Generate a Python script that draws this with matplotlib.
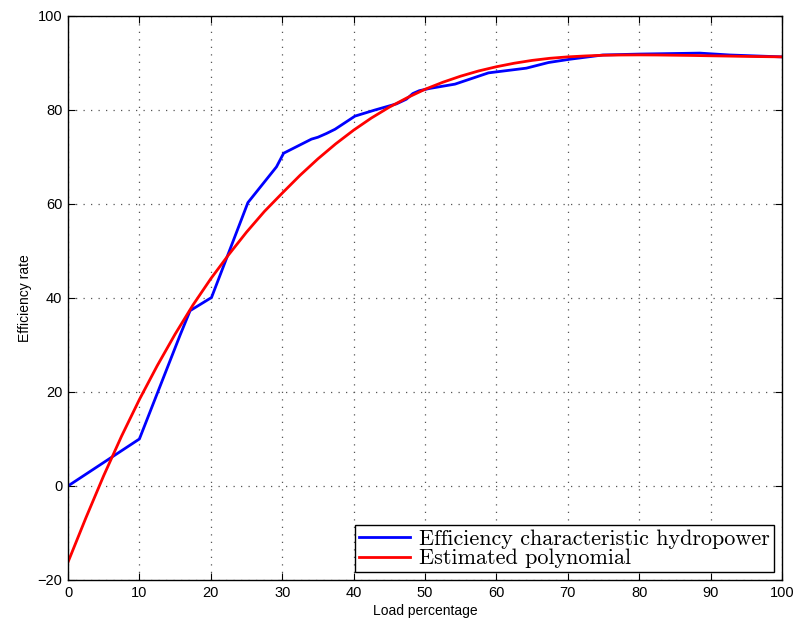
import matplotlib
matplotlib.use("Agg")
import matplotlib.pyplot as plt

# Blue: measured efficiency characteristic
load_meas = [0, 10, 15.7, 17.1, 20.1, 25.2, 29.2, 30.2, 34.1, 35.0, 36.2, 37.4, 40.2,
             43.0, 46.0, 47.4, 48.3, 49.2, 50.7, 54.2, 58.9, 64.2, 67.3, 70.3, 74.9,
             80.1, 88.5, 92.7, 100]
eff_meas = [0, 10, 32.1, 37.3, 40.1, 60.3, 67.9, 70.8, 73.8, 74.2, 75.0, 75.9, 78.7,
            80.0, 81.3, 82.3, 83.5, 84.1, 84.6, 85.5, 87.9, 88.9, 90.1, 90.8, 91.7,
            91.9, 92.1, 91.7, 91.3]

# Red: estimated polynomial, values read at 2.5 % steps
load_poly = [0, 2.5, 5, 7.5, 10, 12.5, 15, 17.5, 20, 22.5, 25, 27.5, 30, 32.5, 35, 37.5,
             40, 42.5, 45, 47.5, 50, 52.5, 55, 57.5, 60, 62.5, 65, 67.5, 70, 72.5, 75,
             77.5, 80, 82.5, 85, 87.5, 90, 92.5, 95, 97.5, 100]
eff_poly = [-16.2, -6.8, 2.2, 10.6, 18.4, 25.6, 32.3, 38.5, 44.1, 49.2, 54.0, 58.4, 62.3,
            66.1, 69.6, 72.8, 75.7, 78.3, 80.6, 82.6, 84.4, 85.9, 87.2, 88.3, 89.2,
            89.95, 90.55, 91.0, 91.3, 91.5, 91.65, 91.7, 91.72, 91.7, 91.65, 91.6,
            91.53, 91.47, 91.4, 91.35, 91.3]

x_ticks = [0, 10, 20, 30, 40, 50, 60, 70, 80, 90, 100]
y_ticks = [-20, 0, 20, 40, 60, 80, 100]

fig = plt.figure(figsize=(8.02, 6.27), dpi=100)
ax = fig.add_axes([0.0848, 0.0750, 0.8902, 0.8995])

ax.plot(load_meas, eff_meas, color="#0000ff", lw=2.0, label="Efficiency characteristic hydropower")
ax.plot(load_poly, eff_poly, color="#ff0000", lw=2.0, label="Estimated polynomial")

ax.set_xlim(0, 100)
ax.set_ylim(-20, 100)
ax.set_xticks(x_ticks)
ax.set_yticks(y_ticks)
ax.set_xticklabels([str(v) for v in x_ticks])
ax.set_yticklabels([("\u2212" + str(-v)) if v < 0 else str(v) for v in y_ticks])
ax.tick_params(direction="in", top=True, right=True, length=5, width=0.8,
               labelsize=10.5, pad=4)
for lab in ax.get_xticklabels() + ax.get_yticklabels():
    lab.set_family(["Liberation Sans", "DejaVu Sans"])
ax.grid(True, linestyle=(0, (1, 5)), color="#555555", lw=0.9)
for sp in ax.spines.values():
    sp.set_linewidth(1.0)
    sp.set_color("black")

ax.set_xlabel("Load percentage", fontsize=10, family="Liberation Sans", labelpad=3)
ax.set_ylabel("Efficiency rate", fontsize=10, family="Liberation Sans", labelpad=4)

leg = ax.legend(loc="lower right", prop={"family": "cmr10", "size": 15.9},
                fancybox=False, framealpha=1, edgecolor="black",
                borderaxespad=0.35, handlelength=2.3, handletextpad=0.45,
                borderpad=0.18, labelspacing=0.0)
leg.get_frame().set_linewidth(1.0)

fig.savefig("out.png", dpi=100)
